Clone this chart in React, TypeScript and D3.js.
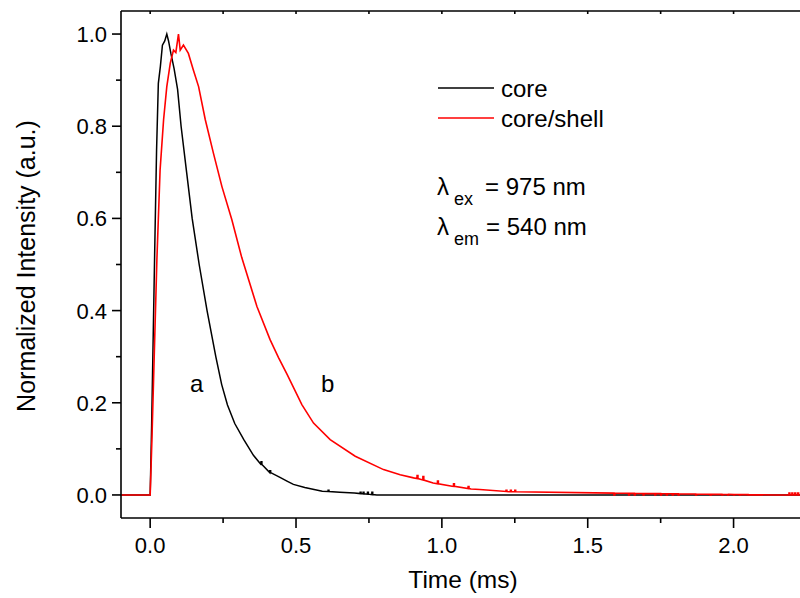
import React from "react";
import * as d3 from "d3";

// ---------- data ----------
const coreX = [-0.1, 0.0, 0.005, 0.015, 0.022, 0.028, 0.035, 0.042, 0.05, 0.057, 0.063, 0.071, 0.082, 0.094, 0.106, 0.125, 0.144, 0.168, 0.195, 0.225, 0.245, 0.265, 0.29, 0.321, 0.354, 0.38, 0.411, 0.445, 0.469, 0.491, 0.53, 0.59, 0.65, 0.7, 0.777, 2.3];
const coreY = [0, 0, 0.15, 0.51, 0.75, 0.893, 0.93, 0.976, 0.985, 1.0, 0.985, 0.958, 0.925, 0.88, 0.8, 0.7, 0.6, 0.5, 0.4, 0.3, 0.24, 0.195, 0.155, 0.12, 0.086, 0.066, 0.048, 0.038, 0.03, 0.023, 0.016, 0.008, 0.006, 0.004, 0.0, 0.0];

const shellX = [-0.1, 0.0, 0.006, 0.023, 0.034, 0.046, 0.057, 0.069, 0.08, 0.088, 0.097, 0.103, 0.114, 0.131, 0.148, 0.166, 0.189, 0.217, 0.246, 0.28, 0.314, 0.366, 0.411, 0.44, 0.469, 0.52, 0.56, 0.617, 0.703, 0.8, 0.857, 0.903, 0.926, 0.97, 1.035, 1.1, 1.13, 1.23, 1.59, 2.14, 2.3];
const shellY = [0, 0, 0.12, 0.51, 0.705, 0.814, 0.886, 0.937, 0.965, 0.96, 1.0, 0.965, 0.976, 0.958, 0.922, 0.886, 0.814, 0.741, 0.669, 0.597, 0.515, 0.409, 0.337, 0.298, 0.262, 0.196, 0.156, 0.12, 0.084, 0.055, 0.044, 0.037, 0.034, 0.026, 0.019, 0.013, 0.012, 0.007, 0.004, 0.0, 0.0];

// small noise spikes visible on the tails: [time, spike value]
const coreSpikes: [number, number][] = [[0.38, 0.072], [0.41, 0.054], [0.61, 0.01], [0.72, 0.006], [0.73, 0.006], [0.745, 0.006], [0.76, 0.006]];
const shellSpikes: [number, number][] = [[0.915, 0.042], [0.935, 0.04], [0.985, 0.03], [1.04, 0.024], [1.09, 0.018], [1.22, 0.01], [1.235, 0.01], [1.25, 0.01], [1.59, 0.0], [1.64, 0.0], [1.66, 0.0], [1.69, 0.0], [1.73, 0.0], [1.75, 0.0], [1.77, 0.0], [1.79, 0.0], [1.81, 0.0], [1.87, 0.0], [1.92, 0.0], [1.96, 0.0], [1.98, 0.0], [2.0, 0.0], [2.02, 0.0], [2.05, 0.0], [2.19, 0.004], [2.2, 0.004], [2.21, 0.004], [2.22, 0.004]];

const xTicksMajor = [0, 0.5, 1.0, 1.5, 2.0];
const xTicksMinor = [0.25, 0.75, 1.25, 1.75, 2.25];
const yTicksMajor = [0, 0.2, 0.4, 0.6, 0.8, 1.0];
const yTicksMinor = [0.1, 0.3, 0.5, 0.7, 0.9];

const legendNames = ["core", "core/shell"];
const seriesColors = ["#000000", "#ff0000"];

// ---------- helpers ----------
function buildSeries(xs: number[], ys: number[], spikes: [number, number][]): [number, number][] {
  const interp = d3.scaleLinear().domain(xs).range(ys).clamp(true);
  const pts: [number, number][] = xs.map((x, i) => [x, ys[i]]);
  spikes.forEach(([sx, sv]) => {
    const base = interp(sx);
    pts.push([sx - 0.0001, base], [sx, sv], [sx + 0.003, sv], [sx + 0.0031, base]);
  });
  pts.sort((a, b) => a[0] - b[0]);
  return pts;
}

const FONT = "'Liberation Sans', Arial, Helvetica, sans-serif";

export default function App() {
  const W = 800, H = 598;
  const left = 121, top = 11, bottom = 518;
  const pxPerUnit = 291.7;
  const x = d3.scaleLinear().domain([-0.1, 2.3]).range([left, left + 2.4 * pxPerUnit]);
  const y = d3.scaleLinear().domain([-0.05, 1.05]).range([bottom, top]);

  const line = d3.line<[number, number]>().x((d) => x(d[0])).y((d) => y(d[1])).curve(d3.curveLinear);
  const core = buildSeries(coreX, coreY, coreSpikes);
  const shell = buildSeries(shellX, shellY, shellSpikes);

  const fmt = d3.format(".1f");

  return (
    <svg width={W} height={H} style={{ position: "absolute", left: 0, top: 0, background: "#fff" }} fontFamily={FONT}>
      <defs>
        <clipPath id="plotClip">
          <rect x={left} y={top} width={W - left} height={bottom - top} />
        </clipPath>
      </defs>
      <rect x={0} y={0} width={W} height={H} fill="#fff" />

      {/* data */}
      <g clipPath="url(#plotClip)">
        <path d={line(core) || ""} fill="none" stroke={seriesColors[0]} strokeWidth={1.5} />
        <path d={line(shell) || ""} fill="none" stroke={seriesColors[1]} strokeWidth={1.6} />
      </g>

      {/* frame */}
      <g stroke="#000" strokeWidth={1.6} fill="none">
        <line x1={left} y1={top} x2={W} y2={top} />
        <line x1={left} y1={bottom} x2={W} y2={bottom} />
        <line x1={left} y1={top} x2={left} y2={bottom} />
      </g>

      {/* ticks */}
      <g stroke="#000" strokeWidth={1.6}>
        {xTicksMajor.map((t) => (
          <g key={"xM" + t}>
            <line x1={x(t)} x2={x(t)} y1={bottom} y2={bottom + 10} />
            <line x1={x(t)} x2={x(t)} y1={top} y2={top + 3} />
          </g>
        ))}
        {xTicksMinor.map((t) => (
          <g key={"xm" + t}>
            <line x1={x(t)} x2={x(t)} y1={bottom} y2={bottom + 5} />
            <line x1={x(t)} x2={x(t)} y1={top} y2={top + 3} />
          </g>
        ))}
        {yTicksMajor.map((t) => (
          <line key={"yM" + t} x1={left - 9} x2={left} y1={y(t)} y2={y(t)} />
        ))}
        {yTicksMinor.map((t) => (
          <line key={"ym" + t} x1={left - 5} x2={left} y1={y(t)} y2={y(t)} />
        ))}
      </g>

      {/* tick labels */}
      <g fontSize={22} fill="#000">
        {xTicksMajor.map((t) => (
          <text key={"xl" + t} x={x(t)} y={553} textAnchor="middle">{fmt(t)}</text>
        ))}
        {yTicksMajor.map((t) => (
          <text key={"yl" + t} x={107} y={y(t) + 8} textAnchor="end">{fmt(t)}</text>
        ))}
      </g>

      {/* axis titles */}
      <text x={463} y={588} fontSize={24.5} textAnchor="middle" fill="#000">Time (ms)</text>
      <text transform={`translate(35,266) rotate(-90)`} fontSize={25} textAnchor="middle" fill="#000">Normalized Intensity (a.u.)</text>

      {/* legend */}
      {legendNames.map((name, i) => (
        <g key={name}>
          <line x1={438} x2={494} y1={88 + i * 30} y2={88 + i * 30} stroke={seriesColors[i]} strokeWidth={1.4} />
          <text x={501} y={97 + i * 30} fontSize={24} fill="#000">{name}</text>
        </g>
      ))}

      {/* annotations */}
      <g fontSize={24} fill="#000">
        <text x={437} y={195}>λ</text>
        <text x={454} y={205} fontSize={18}>ex</text>
        <text x={485} y={195}>= 975 nm</text>
        <text x={437} y={235}>λ</text>
        <text x={454} y={245} fontSize={18}>em</text>
        <text x={486} y={235}>= 540 nm</text>
        <text x={190} y={392}>a</text>
        <text x={321} y={392}>b</text>
      </g>
    </svg>
  );
}
